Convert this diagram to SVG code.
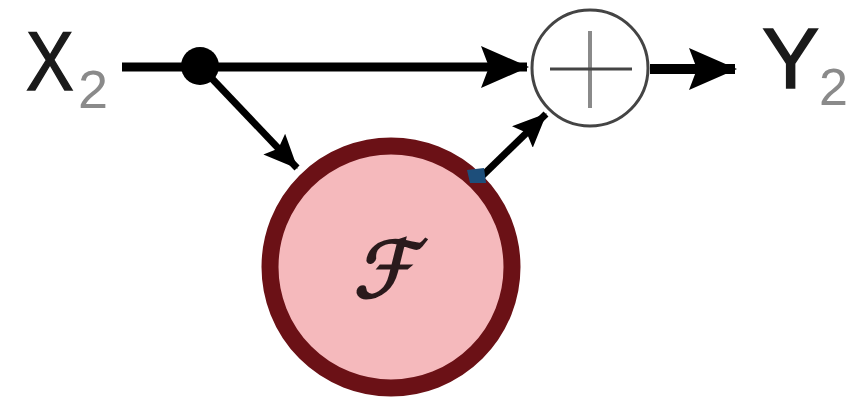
<svg xmlns="http://www.w3.org/2000/svg" width="854" height="407" viewBox="0 0 854 407">
  <style>
    .label { font-family: "Liberation Sans", Arial, sans-serif; fill: #1a1a1a; stroke: #1a1a1a; stroke-width: 1.5; }
    .sub { font-family: "Liberation Sans", Arial, sans-serif; fill: #8a8a8a; }
    .wire { stroke: #000; fill: none; }
  </style>
  <defs>
    <marker id="headBig" markerUnits="userSpaceOnUse" viewBox="0 0 48 42" refX="46" refY="21" markerWidth="48" markerHeight="42" orient="auto">
      <path d="M0,0 L48,21 L0,42 L8,21 z" fill="#000"/>
    </marker>
    <marker id="headSmall" markerUnits="userSpaceOnUse" viewBox="0 0 34 30" refX="33" refY="15" markerWidth="34" markerHeight="30" orient="auto">
      <path d="M0,0 L34,15 L0,30 L6,15 z" fill="#000"/>
    </marker>
  </defs>

  <rect width="854" height="407" fill="#fff"/>

  <g id="connectors">
    <path class="wire" d="M122,67 L527,67" stroke-width="9" marker-end="url(#headBig)"/>
    <path class="wire" d="M200,66 L297,168" stroke-width="7" marker-end="url(#headSmall)"/>
    <path class="wire" d="M478,180 L546,114" stroke-width="7" marker-end="url(#headSmall)"/>
    <path class="wire" d="M650,69 L735,69" stroke-width="10" marker-end="url(#headBig)"/>
    <circle cx="200" cy="66" r="19" fill="#000"/>
  </g>

  <g id="input-x2">
    <text class="label" x="26" y="90" font-size="84" transform="translate(26 0) scale(0.85 1) translate(-26 0)">X</text>
    <text class="sub" x="78" y="108" font-size="54">2</text>
  </g>

  <g id="function-f">
    <circle cx="391" cy="267" r="121" fill="#f5b9bc" stroke="#6b1116" stroke-width="17"/>
    <path d="M467,170 L484,168 L486,183 L470,183 z" fill="#1d4e7a"/>
    <text x="390" y="297" font-size="78" text-anchor="middle" font-family="DejaVu Sans, sans-serif" fill="#2a1a1c" stroke="#2a1a1c" stroke-width="2.5" transform="translate(390 272) skewX(-14) translate(-390 -272)">ℱ</text>
  </g>

  <g id="sum">
    <circle cx="590" cy="68" r="58" fill="#fff" stroke="#444" stroke-width="3"/>
    <path d="M590,31 V108" stroke="#8a8a8a" stroke-width="4"/>
    <path d="M550,69 H632" stroke="#444" stroke-width="3"/>
  </g>

  <g id="output-y2">
    <text class="label" x="762" y="88" font-size="86">Y</text>
    <text class="sub" x="819" y="105" font-size="52">2</text>
  </g>
</svg>
